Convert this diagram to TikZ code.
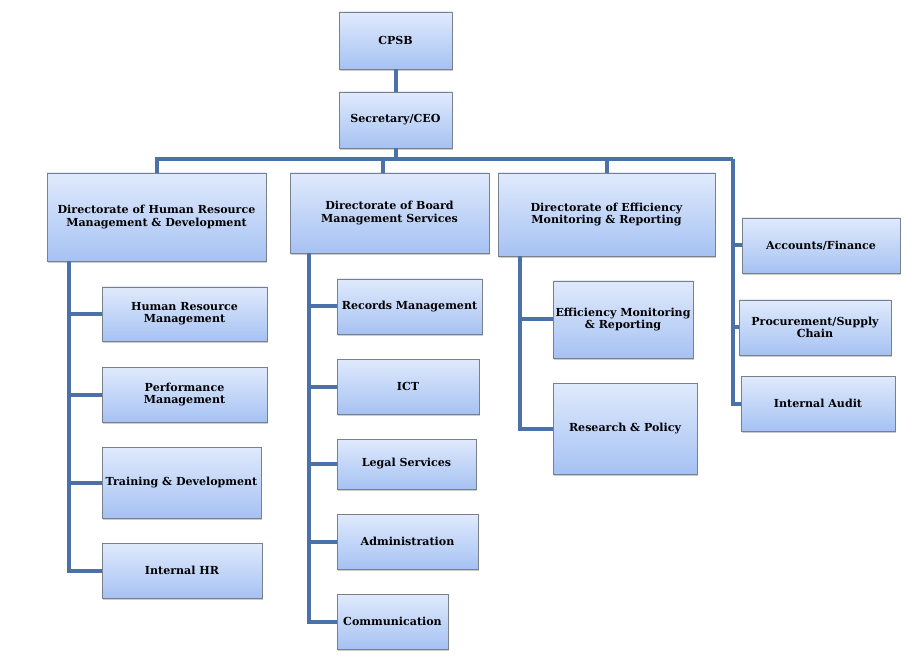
\documentclass[tikz,border=0pt]{standalone}
\usepackage{fontspec}
\setmainfont{DejaVu Serif}
\definecolor{boxtop}{RGB}{224,234,252}
\definecolor{boxbot}{RGB}{166,194,243}
\definecolor{boxline}{RGB}{120,128,140}
\definecolor{orgline}{RGB}{74,114,168}
\usetikzlibrary{calc,shadows}

\tikzset{
  unit/.style 2 args={draw=boxline, top color=boxtop, bottom color=boxbot,
    minimum width=#1*0.75pt, minimum height=#2*0.75pt, inner sep=1pt,
    font=\fontsize{8.3}{9.2}\selectfont\bfseries, align=center,
    drop shadow={shadow xshift=1pt, shadow yshift=-1.5pt, opacity=0.4}},
  link/.style={draw=orgline, line width=3pt}
}

\begin{document}
\begin{tikzpicture}[x=0.75pt, y=-0.75pt]
  \useasboundingbox (0,0) rectangle (920,666);

  % Board and chief executive
  \node[unit={113}{57}] (cpsb) at (395.5,40.5) {CPSB};
  \node[unit={113}{56}] (ceo) at (395.5,120) {Secretary/CEO};

  % Directorates
  \node[unit={219}{88}] (dhr) at (156.5,217) {Directorate of Human Resource\\Management \& Development};
  \node[unit={199}{80}] (dbm) at (389.5,213) {Directorate of Board\\Management Services};
  \node[unit={217}{83}] (dem) at (606.5,214.5) {Directorate of Efficiency\\Monitoring \& Reporting};

  % Units under the CEO
  \node[unit={158}{55}] (fin) at (821,245.5) {Accounts/Finance};
  \node[unit={152}{55}] (proc) at (815,327.5) {Procurement/Supply\\Chain};
  \node[unit={154}{55}] (audit) at (818,403.5) {Internal Audit};

  % HR units
  \node[unit={165}{54}] (hrm) at (184.5,314) {Human Resource\\Management};
  \node[unit={165}{55}] (perf) at (184.5,394.5) {Performance\\Management};
  \node[unit={159}{71}] (train) at (181.5,482.5) {Training \& Development};
  \node[unit={160}{55}] (ihr) at (182,570.5) {Internal HR};

  % Board management units
  \node[unit={145}{55}] (rec) at (409.5,306.5) {Records Management};
  \node[unit={142}{55}] (ict) at (408,386.5) {ICT};
  \node[unit={139}{50}] (legal) at (406.5,464) {Legal Services};
  \node[unit={141}{55}] (admin) at (407.5,541.5) {Administration};
  \node[unit={111}{55}] (comm) at (392.5,621.5) {Communication};

  % Efficiency units
  \node[unit={140}{77}] (emr) at (623,319.5) {Efficiency Monitoring\\\& Reporting};
  \node[unit={144}{91}] (rp) at (625,428.5) {Research \& Policy};

  % Lines
  \coordinate (bus) at (395.5,159);
  \coordinate (rbus) at (733,159);
  \draw[link] (cpsb) -- (ceo);
  \draw[link] (ceo) -- (bus);
  \draw[link] (bus) -| (dhr);
  \draw[link] (bus) -| ($(dbm.north)+(-7,0)$);
  \draw[link] (bus) -| (dem);
  \draw[link] (bus) -- (rbus);
  \foreach \u in {fin,proc,audit}
    \draw[link] (rbus) |- (\u.west);
  \foreach \u in {hrm,perf,train,ihr}
    \draw[link] ($(dhr.south west)+(22,0)$) |- (\u.west);
  \foreach \u in {rec,ict,legal,admin,comm}
    \draw[link] ($(dbm.south west)+(19,0)$) |- (\u.west);
  \foreach \u in {emr,rp}
    \draw[link] ($(dem.south west)+(22,0)$) |- (\u.west);
\end{tikzpicture}
\end{document}
